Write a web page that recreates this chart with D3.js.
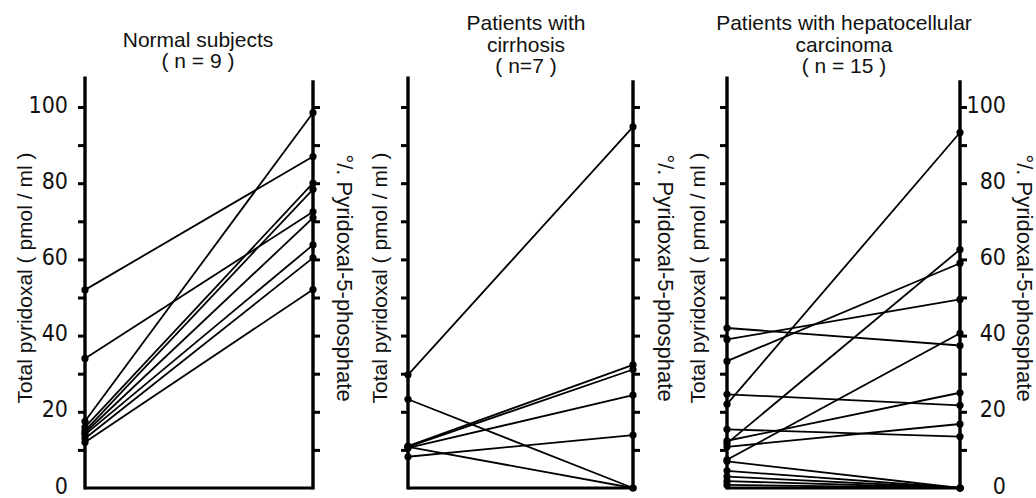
<!DOCTYPE html>
<html>
<head>
<meta charset="utf-8">
<script src="https://cdn.jsdelivr.net/npm/d3@7"></script>
<style>
  body { margin: 0; background: #fff; }
  text { font-family: "Liberation Sans", Arial, sans-serif; fill: #111; }
  .tick-label text { font-family: "Liberation Sans Narrow", "DejaVu Sans Condensed", sans-serif; font-size: 23px; }
</style>
</head>
<body>
<svg id="chart" width="1036" height="498"></svg>
<script>
// values
const labelTicks = [0, 20, 40, 60, 80, 100];
const markTicks = [10, 20, 30, 40, 50, 60, 70, 80, 90, 100];

const normalTotal = [52, 34, 17.5, 16, 15, 14.5, 14, 13, 12];
const normalP5P = [87, 72.5, 98.5, 80, 78.4, 70.9, 63.8, 60.4, 52.1];

const cirrhosisTotal = [29.7, 23.3, 11, 10.8, 10.5, 10.8, 8.2];
const cirrhosisP5P = [94.8, 0, 32.3, 31.1, 24.4, 0, 13.9];

const hccTotal = [42, 39, 33.3, 24.6, 22, 15.4, 11.7, 12.4, 10.8, 7.4, 7, 4.5, 3, 1.8, 0.8];
const hccP5P = [37.4, 49.5, 59, 21.7, 93.3, 13.5, 62.6, 25, 16.8, 40.6, 0, 0, 0, 0, 0];

const panelTitles = [
  ['Normal subjects', '( n = 9 )'],
  ['Patients with', 'cirrhosis', '( n=7 )'],
  ['Patients with hepatocellular', 'carcinoma', '( n = 15 )']
];
const leftLabel = 'Total pyridoxal ( pmol / ml )';
const rightLabel = '°/. Pyridoxal-5-phosphate';

const svg = d3.select('#chart');

const panels = [
  { x0: 85, x1: 313, before: normalTotal, after: normalP5P, title: panelTitles[0], titleY: [47, 68], cx: 198,
    leftOff: -53, rightOff: 24, leftNums: true, rightNums: false },
  { x0: 408, x1: 633, before: cirrhosisTotal, after: cirrhosisP5P, title: panelTitles[1], titleY: [30, 52, 73], cx: 526,
    leftOff: -21, rightOff: 25, leftNums: false, rightNums: false },
  { x0: 727, x1: 960, before: hccTotal, after: hccP5P, title: panelTitles[2], titleY: [30, 52, 73], cx: 844,
    leftOff: -22, rightOff: 57, leftNums: false, rightNums: true }
];

const y = d3.scaleLinear().domain([0, 100]).range([488, 107]);

panels.forEach(function (p) {
  const g = svg.append('g');
  const x = d3.scaleLinear().domain([0, 1]).range([p.x0, p.x1]);

  // axis lines
  g.append('line')
    .attr('x1', p.x0).attr('x2', p.x0)
    .attr('y1', y(0) + 1.5).attr('y2', y(108))
    .attr('stroke', '#000').attr('stroke-width', 3.4);
  g.append('line')
    .attr('x1', p.x1).attr('x2', p.x1)
    .attr('y1', y(0) + 1.5).attr('y2', y(107))
    .attr('stroke', '#000').attr('stroke-width', 3.4);
  g.append('line')
    .attr('x1', p.x0).attr('x2', p.x1)
    .attr('y1', y(0)).attr('y2', y(0))
    .attr('stroke', '#000').attr('stroke-width', 3);

  // tick marks
  const leftAxis = d3.axisLeft(y).tickValues(markTicks).tickSize(7).tickFormat('');
  const rightAxis = d3.axisRight(y).tickValues(markTicks).tickSize(7).tickFormat('');
  [g.append('g').attr('transform', 'translate(' + p.x0 + ',0)').call(leftAxis),
   g.append('g').attr('transform', 'translate(' + p.x1 + ',0)').call(rightAxis)]
    .forEach(function (a) {
      a.select('.domain').remove();
      a.selectAll('line').attr('stroke', '#000').attr('stroke-width', 3);
    });

  // tick numbers
  if (p.leftNums) {
    const la = g.append('g').attr('class', 'tick-label')
      .attr('transform', 'translate(' + p.x0 + ',0)')
      .call(d3.axisLeft(y).tickValues(labelTicks).tickSize(0).tickPadding(17));
    la.select('.domain').remove();
    la.selectAll('text').attr('fill', '#111').attr('font-size', null).attr('font-family', null)
      .attr('dy', '0.22em');
  }
  if (p.rightNums) {
    const ra = g.append('g').attr('class', 'tick-label')
      .attr('transform', 'translate(' + p.x1 + ',0)')
      .call(d3.axisRight(y).tickValues(labelTicks).tickSize(0));
    ra.select('.domain').remove();
    ra.selectAll('text').attr('x', 46).attr('text-anchor', 'end')
      .attr('fill', '#111').attr('font-size', null).attr('font-family', null)
      .attr('dy', '0.22em');
  }

  // axis titles
  const yc = 278;
  g.append('text')
    .attr('transform', 'translate(' + (p.x0 + p.leftOff) + ',' + yc + ') rotate(-90)')
    .attr('text-anchor', 'middle')
    .attr('font-size', 21)
    .text(leftLabel);
  g.append('text')
    .attr('transform', 'translate(' + (p.x1 + p.rightOff) + ',' + yc + ') rotate(90)')
    .attr('text-anchor', 'middle')
    .attr('font-size', 22)
    .text(rightLabel);

  // panel title
  g.selectAll('.ptitle').data(p.title).enter().append('text')
    .attr('class', 'ptitle')
    .attr('x', p.cx)
    .attr('y', function (d, i) { return p.titleY[i]; })
    .attr('text-anchor', 'middle')
    .attr('font-size', 21)
    .text(function (d) { return d; });

  // connecting lines and points
  const pairs = p.before.map(function (b, i) { return [b, p.after[i]]; });
  g.selectAll('.pair').data(pairs).enter().append('line')
    .attr('class', 'pair')
    .attr('x1', x(0)).attr('x2', x(1))
    .attr('y1', function (d) { return y(d[0]); })
    .attr('y2', function (d) { return y(d[1]); })
    .attr('stroke', '#000').attr('stroke-width', 1.8);
  g.selectAll('.dotL').data(p.before).enter().append('circle')
    .attr('cx', x(0)).attr('cy', function (d) { return y(d); })
    .attr('r', 3.6).attr('fill', '#000');
  g.selectAll('.dotR').data(p.after).enter().append('circle')
    .attr('cx', x(1)).attr('cy', function (d) { return y(d); })
    .attr('r', 3.6).attr('fill', '#000');
});
</script>
</body>
</html>
